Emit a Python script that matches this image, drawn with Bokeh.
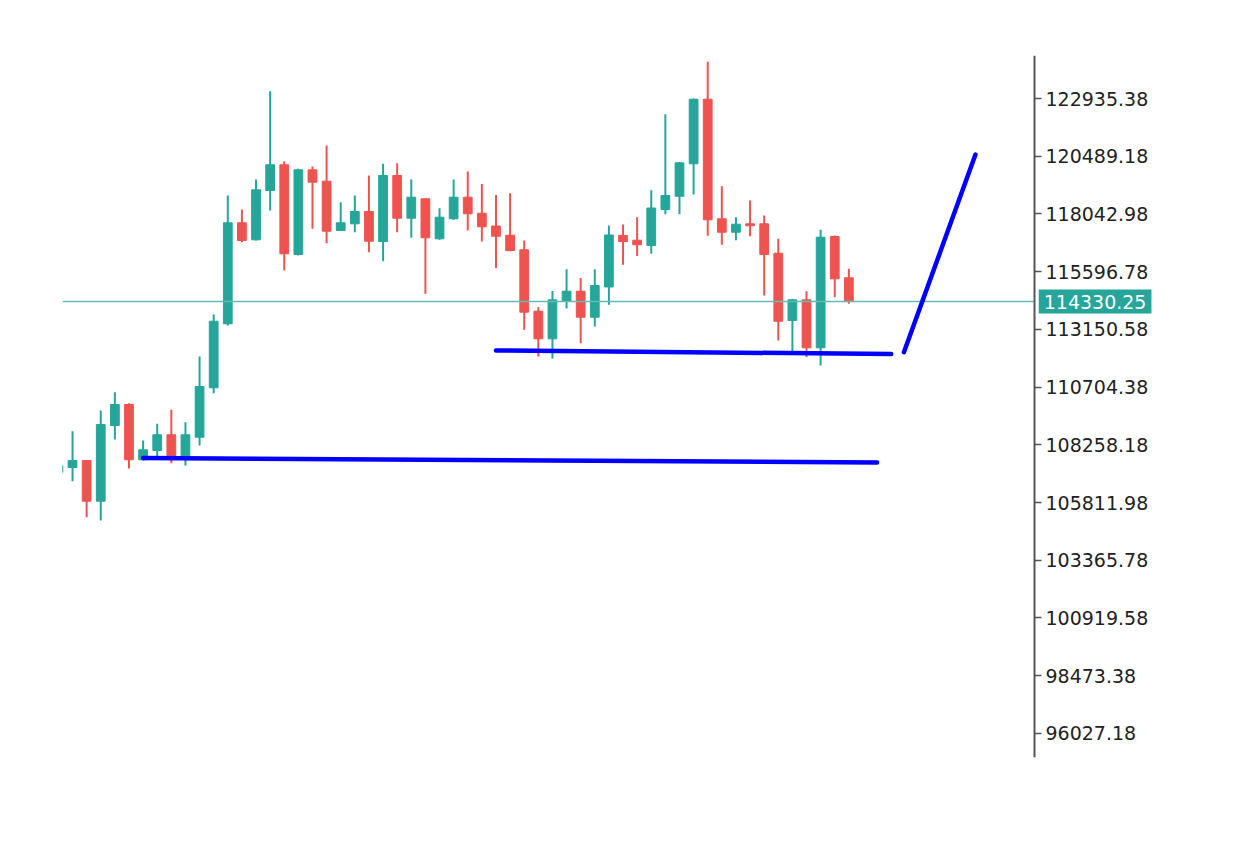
from bokeh.plotting import figure
from bokeh.models import (ColumnDataSource, FixedTicker, NumeralTickFormatter, Label,
                          Range1d, LinearAxis)
from bokeh.embed import file_html
from bokeh.resources import INLINE

# ---- data ----
opens = [107085, 107297, 107594, 105869, 109077, 109967, 107624, 108018, 108683, 107763,
         108581, 110675, 113387, 117668, 116947, 119036, 120126, 116324, 119914, 119431,
         117341, 117625, 118146, 116875, 119672, 117863, 118685, 116989, 117837, 118753,
         118074, 117532, 117142, 116523, 113921, 112751, 114332, 114769, 113667, 114947,
         117129, 116930, 116706, 118231, 118795, 120168, 122906, 117837, 117269, 117625,
         117625, 116379, 113527, 114404, 112370, 117087, 115337]
highs = [107509, 108836, 107620, 109713, 110488, 110022, 108441, 109149, 109743, 109217,
         112001, 113781, 118825, 118231, 119503, 123245, 120278, 119956, 120054, 120944,
         118541, 118825, 119672, 120168, 120193, 119503, 118700, 118286, 119503, 119842,
         119312, 118846, 118922, 116917, 114091, 114777, 115701, 115328, 115701, 117553,
         117596, 117905, 119049, 122270, 120244, 122935, 124491, 119219, 117905, 118613,
         117977, 116989, 114438, 114769, 117371, 117129, 115718]
lows = [106916, 106717, 105191, 105051, 108484, 107255, 107594, 107763, 107479, 107382,
        108230, 110446, 113315, 116845, 116917, 118189, 115646, 116282, 117413, 116803,
        117320, 117269, 116422, 116040, 117269, 117032, 114659, 116947, 117795, 117341,
        116875, 115752, 116464, 113133, 112001, 111917, 114036, 112565, 113273, 114192,
        115888, 116261, 116354, 118032, 118032, 118867, 117117, 116735, 116930, 117100,
        114587, 112679, 112226, 111972, 111620, 114515, 114235]
closes = [107382, 107594, 105869, 109120, 109967, 107624, 108047, 108683, 107734, 108683,
          110730, 113497, 117668, 116917, 119066, 120126, 116354, 119914, 119388, 117312,
          117668, 118146, 116888, 119672, 117863, 118753, 117032, 117905, 118753, 118049,
          117498, 117100, 116494, 113879, 112751, 114404, 114769, 113667, 115010, 117151,
          116875, 116735, 118295, 118825, 120210, 122906, 117795, 117269, 117608, 117540,
          116324, 113497, 114404, 112370, 117057, 115294, 114330.25]

y_ticks = [122935.38, 120489.18, 118042.98, 115596.78, 113150.58, 110704.38,
           108258.18, 105811.98, 103365.78, 100919.58, 98473.38, 96027.18]

# drawn lines (bar index, price)
support_low_x = [6, 58]
support_low_y = [107700, 107509]
support_high_x = [31, 59]
support_high_y = [112256, 112107]
trend_x = [59.9, 64.97]
trend_y = [112183, 120562]

# ---- build ----
GREEN = "#26a69a"
RED = "#ef5350"
X_START, AXIS_X, X_END = 0.29, 69.15, 81.62

idx = list(range(len(opens)))
colors = [GREEN if c >= o else RED for o, c in zip(opens, closes)]
src = ColumnDataSource(dict(
    x=idx,
    top=[max(o, c) for o, c in zip(opens, closes)],
    bottom=[min(o, c) for o, c in zip(opens, closes)],
    high=highs, low=lows, color=colors,
))

p = figure(width=1215, height=820, output_backend="svg", toolbar_location=None,
           x_range=Range1d(X_START, X_END), y_range=Range1d(95007, 124758),
           y_axis_location=None, x_axis_location=None,
           min_border_left=62, min_border_top=55, min_border_right=5,
           min_border_bottom=63)
p.grid.visible = False
p.outline_line_color = None
p.background_fill_color = "white"
p.border_fill_color = "white"

p.segment(x0="x", x1="x", y0="low", y1="high", line_color="color", line_width=2, source=src)
p.vbar(x="x", top="top", bottom="bottom", width=0.62, fill_color="color",
       line_color="color", line_width=1, source=src)

# current price line, up to the price axis
p.line([X_START, AXIS_X], [closes[-1], closes[-1]], line_color="#5fbdb4", line_width=1.6)

for xs, ys in [(support_low_x, support_low_y), (support_high_x, support_high_y),
               (trend_x, trend_y)]:
    p.line(xs, ys, line_color="#0000ff", line_width=4.5, line_cap="round")

ax = LinearAxis(fixed_location=AXIS_X)
ax.ticker = FixedTicker(ticks=y_ticks, minor_ticks=[])
ax.formatter = NumeralTickFormatter(format="0.00")
ax.axis_line_color = "#555555"
ax.axis_line_width = 2
ax.major_tick_line_color = "#555555"
ax.major_tick_line_width = 1.5
ax.major_tick_out = 7
ax.major_tick_in = 0
ax.minor_tick_line_color = None
ax.major_label_standoff = 4
ax.major_label_text_font = "DejaVu Sans"
ax.major_label_text_font_size = "19px"
ax.major_label_text_color = "#222222"
p.add_layout(ax, "right")

p.add_layout(Label(x=69.45, y=closes[-1], text=f"{closes[-1]:.2f}",
                   text_color="white", text_font="DejaVu Sans", text_font_size="19px",
                   text_baseline="middle", text_align="left",
                   background_fill_color=GREEN, padding=5))

open("out.html", "w").write(file_html(p, INLINE))
